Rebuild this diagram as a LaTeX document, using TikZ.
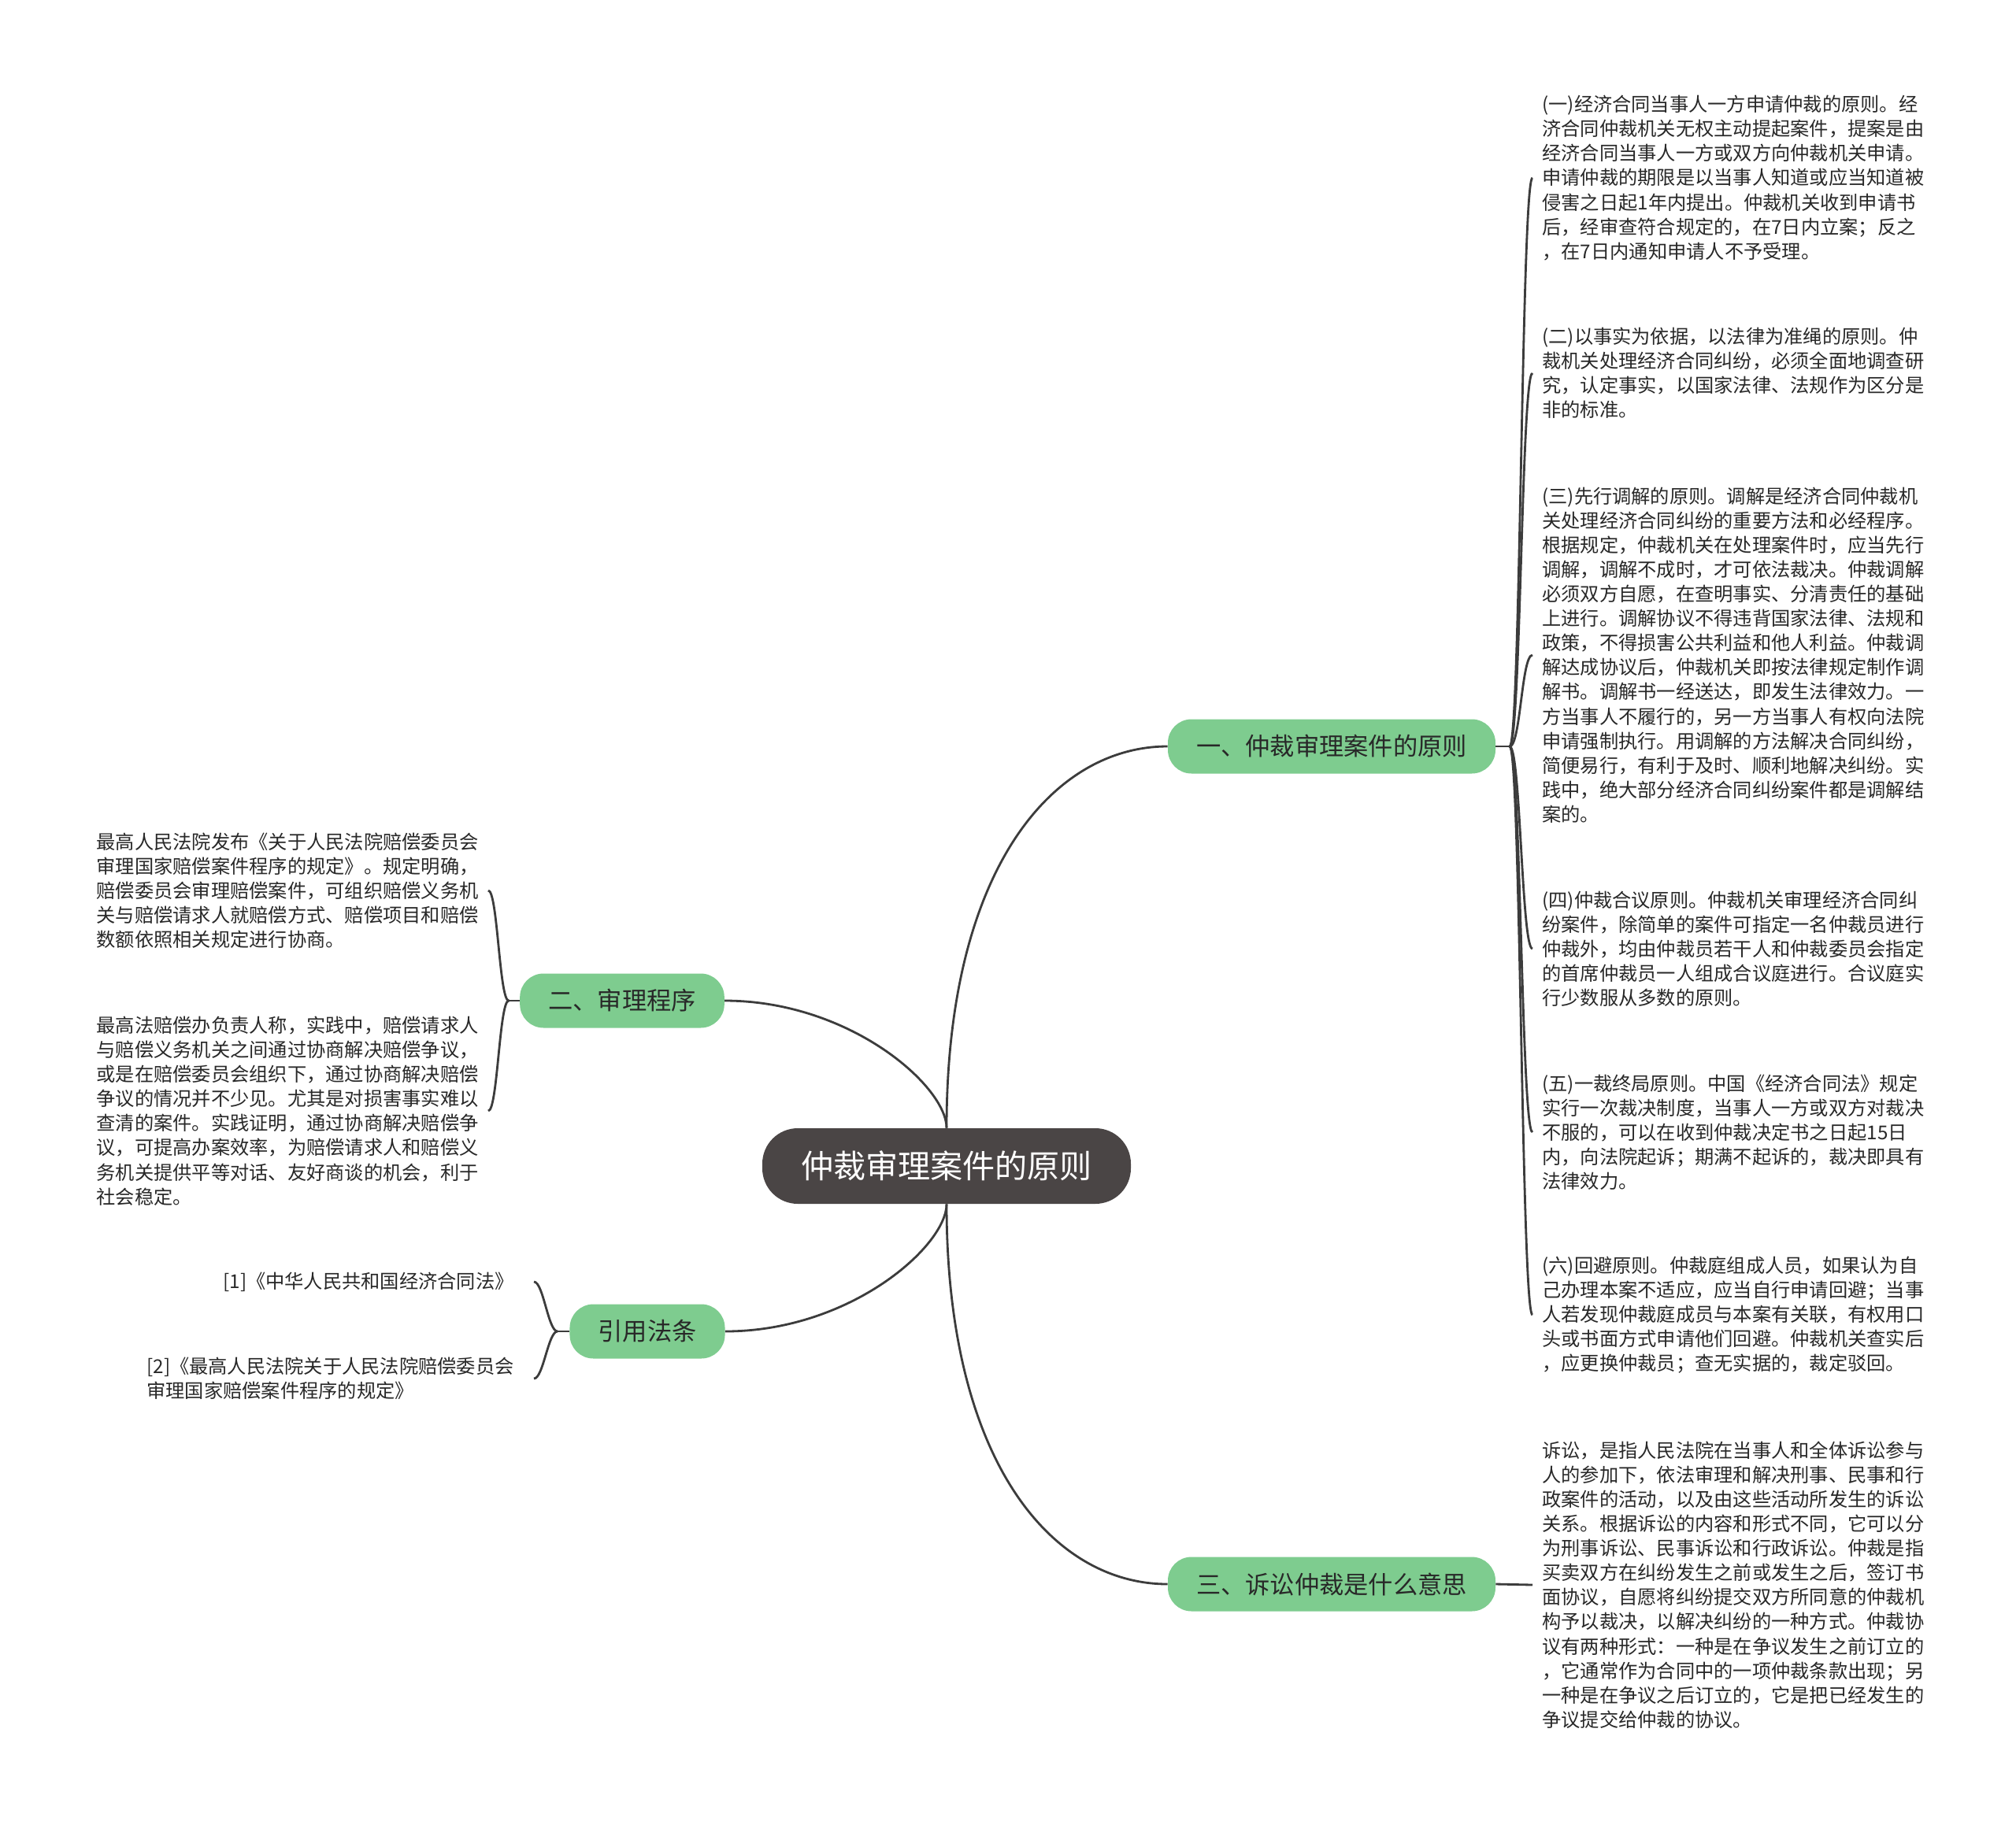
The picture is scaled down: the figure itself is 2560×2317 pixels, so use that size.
\documentclass[tikz,border=0pt]{standalone}
\usepackage{fontspec}
\setmainfont{Noto Sans CJK SC}

\definecolor{rootgray}{RGB}{74,69,69}
\definecolor{topicgreen}{RGB}{126,204,143}
\definecolor{linegray}{RGB}{60,60,60}
\definecolor{textgray}{RGB}{40,40,40}

\begin{document}
\begin{tikzpicture}[
    x=0.02cm, y=-0.02cm,
    every node/.style={font=\fontsize{13.8}{17.7}\selectfont},
    root/.style={rectangle, fill=rootgray, text=white, rounded corners=0.9cm, minimum height=1.92cm, inner xsep=0.98cm, font=\fontsize{23.4}{28}\selectfont},
    topic/.style={rectangle, fill=topicgreen, text=textgray, rounded corners=0.6cm, minimum height=1.38cm, inner xsep=0.72cm, font=\fontsize{17.8}{21}\selectfont},
    leaf/.style={text=textgray, align=left, inner xsep=0.24cm, inner ysep=0.1cm},
    refleaf/.style={leaf, inner xsep=0.5cm},
    link/.style={draw=linegray, line width=1.6pt}
]
\useasboundingbox (0,0) rectangle (2560,2317);

\node[root] (root) at (1202,1481) {仲裁审理案件的原则};

\node[topic] (principles) at (1691,948) {一、仲裁审理案件的原则};
\node[topic] (procedure) at (790,1271) {二、审理程序};
\node[topic] (laws) at (822,1691) {引用法条};
\node[topic] (meaning) at (1691,2012) {三、诉讼仲裁是什么意思};

\node[leaf, anchor=west] (p1) at (1946,226) {(一)经济合同当事人一方申请仲裁的原则。经\\济合同仲裁机关无权主动提起案件，提案是由\\经济合同当事人一方或双方向仲裁机关申请。\\申请仲裁的期限是以当事人知道或应当知道被\\侵害之日起1年内提出。仲裁机关收到申请书\\后，经审查符合规定的，在7日内立案；反之\\，在7日内通知申请人不予受理。};
\node[leaf, anchor=west] (p2) at (1946,474) {(二)以事实为依据，以法律为准绳的原则。仲\\裁机关处理经济合同纠纷，必须全面地调查研\\究，认定事实，以国家法律、法规作为区分是\\非的标准。};
\node[leaf, anchor=west] (p3) at (1946,832) {(三)先行调解的原则。调解是经济合同仲裁机\\关处理经济合同纠纷的重要方法和必经程序。\\根据规定，仲裁机关在处理案件时，应当先行\\调解，调解不成时，才可依法裁决。仲裁调解\\必须双方自愿，在查明事实、分清责任的基础\\上进行。调解协议不得违背国家法律、法规和\\政策，不得损害公共利益和他人利益。仲裁调\\解达成协议后，仲裁机关即按法律规定制作调\\解书。调解书一经送达，即发生法律效力。一\\方当事人不履行的，另一方当事人有权向法院\\申请强制执行。用调解的方法解决合同纠纷，\\简便易行，有利于及时、顺利地解决纠纷。实\\践中，绝大部分经济合同纠纷案件都是调解结\\案的。};
\node[leaf, anchor=west] (p4) at (1946,1205) {(四)仲裁合议原则。仲裁机关审理经济合同纠\\纷案件，除简单的案件可指定一名仲裁员进行\\仲裁外，均由仲裁员若干人和仲裁委员会指定\\的首席仲裁员一人组成合议庭进行。合议庭实\\行少数服从多数的原则。};
\node[leaf, anchor=west] (p5) at (1946,1438) {(五)一裁终局原则。中国《经济合同法》规定\\实行一次裁决制度，当事人一方或双方对裁决\\不服的，可以在收到仲裁决定书之日起15日\\内，向法院起诉；期满不起诉的，裁决即具有\\法律效力。};
\node[leaf, anchor=west] (p6) at (1946,1670) {(六)回避原则。仲裁庭组成人员，如果认为自\\己办理本案不适应，应当自行申请回避；当事\\人若发现仲裁庭成员与本案有关联，有权用口\\头或书面方式申请他们回避。仲裁机关查实后\\，应更换仲裁员；查无实据的，裁定驳回。};
\node[leaf, anchor=west] (m1) at (1946,2013) {诉讼，是指人民法院在当事人和全体诉讼参与\\人的参加下，依法审理和解决刑事、民事和行\\政案件的活动，以及由这些活动所发生的诉讼\\关系。根据诉讼的内容和形式不同，它可以分\\为刑事诉讼、民事诉讼和行政诉讼。仲裁是指\\买卖双方在纠纷发生之前或发生之后，签订书\\面协议，自愿将纠纷提交双方所同意的仲裁机\\构予以裁决，以解决纠纷的一种方式。仲裁协\\议有两种形式：一种是在争议发生之前订立的\\，它通常作为合同中的一项仲裁条款出现；另\\一种是在争议之后订立的，它是把已经发生的\\争议提交给仲裁的协议。};

\node[leaf, anchor=east] (s1) at (620,1131) {最高人民法院发布《关于人民法院赔偿委员会\\审理国家赔偿案件程序的规定》。规定明确，\\赔偿委员会审理赔偿案件，可组织赔偿义务机\\关与赔偿请求人就赔偿方式、赔偿项目和赔偿\\数额依照相关规定进行协商。};
\node[leaf, anchor=east] (s2) at (620,1411) {最高法赔偿办负责人称，实践中，赔偿请求人\\与赔偿义务机关之间通过协商解决赔偿争议，\\或是在赔偿委员会组织下，通过协商解决赔偿\\争议的情况并不少见。尤其是对损害事实难以\\查清的案件。实践证明，通过协商解决赔偿争\\议，可提高办案效率，为赔偿请求人和赔偿义\\务机关提供平等对话、友好商谈的机会，利于\\社会稳定。};

\node[refleaf, anchor=east] (law1) at (678,1628) {[1]《中华人民共和国经济合同法》};
\node[refleaf, anchor=east] (law2) at (678,1751) {[2]《最高人民法院关于人民法院赔偿委员会\\审理国家赔偿案件程序的规定》};

\coordinate (jp) at (1917,948);
\coordinate (js) at (646,1271);
\coordinate (jl) at (708,1691);

\draw[link] (root.north) .. controls +(0,-330) and +(-145,0) .. (principles.west);
\draw[link] (root.south) .. controls +(0,330) and +(-145,0) .. (meaning.west);
\draw[link] (root.north) .. controls +(0,-53) and +(159,0) .. (procedure.east);
\draw[link] (root.south) .. controls +(0,53) and +(159,0) .. (laws.east);

\draw[link] (principles.east) -- (jp);
\foreach \leafname in {p1,p2,p3,p4,p5,p6}
    \draw[link] (jp) .. controls +(14,0) and +(-14,0) .. (\leafname.west);
\draw[link] (meaning.east) -- (m1.west);

\draw[link] (procedure.west) -- (js);
\draw[link] (js) .. controls +(-12,0) and +(12,0) .. (s1.east);
\draw[link] (js) .. controls +(-12,0) and +(12,0) .. (s2.east);

\draw[link] (laws.west) -- (jl);
\draw[link] (jl) .. controls +(-12,0) and +(12,0) .. (law1.east);
\draw[link] (jl) .. controls +(-12,0) and +(12,0) .. (law2.east);

\end{tikzpicture}
\end{document}
